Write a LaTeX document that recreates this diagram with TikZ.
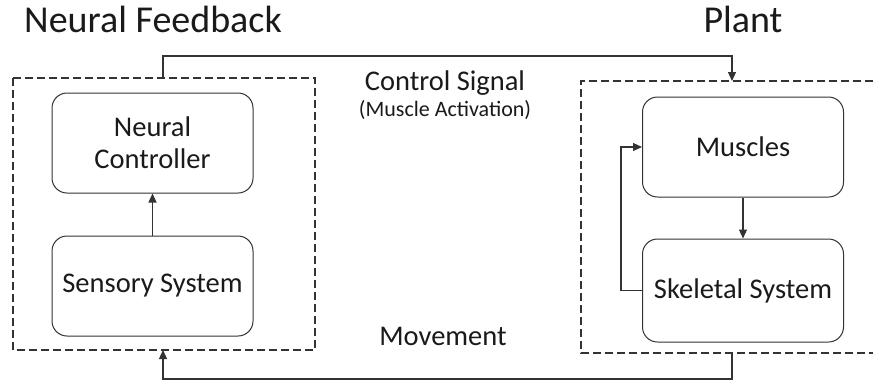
\documentclass[tikz,border=0pt]{standalone}
\usepackage{fontspec}
\setmainfont{Carlito}
\usetikzlibrary{arrows.meta}
\definecolor{ln}{HTML}{333333}
\definecolor{tx}{HTML}{1A1A1A}
\tikzset{
  block/.style={draw=ln, line width=1pt, rounded corners=15pt, minimum width=201pt, minimum height=100pt, inner sep=0pt, align=center, text=tx, font=\fontsize{28.5}{32}\selectfont},
  group/.style={draw=ln, line width=1.1pt, dash pattern=on 8pt off 4pt},
  conn/.style={draw=ln, line width=1.1pt, -{Triangle[length=9pt,width=8pt]}},
  title/.style={text=tx, font=\fontsize{38}{40}\selectfont, inner sep=0pt, anchor=base},
  lbl/.style={text=tx, font=\fontsize{28.5}{32}\selectfont, inner sep=0pt},
  sublbl/.style={text=tx, font=\fontsize{22}{26}\selectfont, inner sep=0pt}
}
\begin{document}
\begin{tikzpicture}[x=1pt,y=-1pt]
\useasboundingbox[fill=white] (0,0) rectangle (873,381);
% titles
\node[title] (tfb) at (153,32) {Neural Feedback};
\node[title] (tpl) at (743,32) {Plant};
% groups
\draw[group] (13,78) rectangle (315,350);
\coordinate (lgt) at (163,78);
\coordinate (lgb) at (163,350);
\draw[group] (873,81) -- (581,81) -- (581,353) -- (873,353);
\coordinate (rgt) at (732,81);
\coordinate (rgb) at (732,353);
% blocks
\node[block] (nc) at (152.5,143) {Neural\\Controller};
\node[block] (ss) at (152.5,286) {Sensory System};
\node[block] (mu) at (743,147) {Muscles};
\node[block, minimum height=103pt] (sk) at (743,290.5) {Skeletal System};
% labels
\node[lbl] (cs) at (445,83) {Control Signal};
\node[sublbl] (ma) at (445,110) {(Muscle Activation)};
\node[lbl] (mv) at (443,336) {Movement};
% connectors
\draw[conn] (ss.north) -- (nc.south);
\draw[conn] (mu.south) -- (sk.south |- sk.north);
\draw[conn] (sk.west) -- ++(-21,0) |- (mu.west);
\draw[conn] (lgt) -- (163,56) -| (rgt);
\draw[conn] (rgb) -- (732,379) -| (lgb);
\end{tikzpicture}
\end{document}
